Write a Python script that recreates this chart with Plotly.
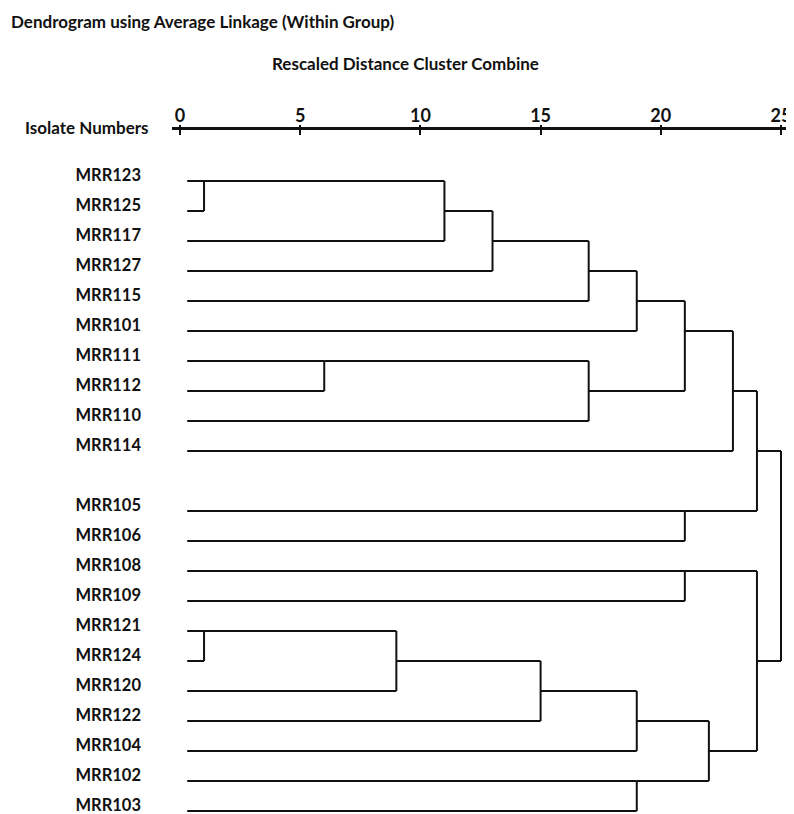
import plotly.graph_objects as go

# ---------------- data ----------------
leaves = ["MRR123", "MRR125", "MRR117", "MRR127", "MRR115", "MRR101",
          "MRR111", "MRR112", "MRR110", "MRR114",
          "MRR105", "MRR106", "MRR108", "MRR109", "MRR121", "MRR124",
          "MRR120", "MRR122", "MRR104", "MRR102", "MRR103"]

# merges: (child A, child B, rescaled distance); "C<n>" = cluster made by merge n (1-based)
merge_a = ["MRR123", "MRR121", "MRR111", "C2", "C1", "C5", "C4", "C6", "C3", "C8",
           "C7", "MRR102", "C10", "MRR105", "MRR108", "C11", "C13", "C17", "C15", "C18"]
merge_b = ["MRR125", "MRR124", "MRR112", "MRR120", "MRR117", "MRR127", "MRR122", "MRR115",
           "MRR110", "MRR101", "MRR104", "MRR103", "C9", "MRR106", "MRR109", "C12",
           "MRR114", "C14", "C16", "C19"]
merge_dist = [1, 1, 6, 9, 11, 13, 15, 17, 17, 19, 19, 19, 21, 21, 21, 22, 23, 24, 24, 25]

x_ticks = [0, 5, 10, 15, 20, 25]

# ---------------- layout constants ----------------
OFF = 8                              # page body margin
W, H = 794 - OFF, 814 - OFF
PL, PR, PT = 172 - OFF, 790 - OFF, 130 - OFF   # plot area pixels
X0_PX, PX_PER_UNIT = 180 - OFF, 24.04
ROW0_PX, ROW_PX = 181 - OFF, 30
GAP_AFTER = "MRR114"
LEAF_START = 0.3
FONT = "Lato"
INK = "#111111"

# row of each leaf (one empty row after GAP_AFTER)
row = {}
r = 0
for name in leaves:
    row[name] = r
    r += 1
    if name == GAP_AFTER:
        r += 1

# node info: start x and output row
node_x = {n: LEAF_START for n in leaves}
node_row = dict(row)
xs, ys = [], []
parent_dist = {}
for i, (a, b, d) in enumerate(zip(merge_a, merge_b, merge_dist), start=1):
    parent_dist[a] = d
    parent_dist[b] = d
    cname = f"C{i}"
    ra, rb = node_row[a], node_row[b]
    lo, hi = min(ra, rb), max(ra, rb)
    node_x[cname] = d
    node_row[cname] = (lo + hi) // 2
    xs += [d, d, None]
    ys += [lo, hi, None]

for n, d in parent_dist.items():
    xs += [node_x[n], d, None]
    ys += [node_row[n], node_row[n], None]

fig = go.Figure()
fig.add_trace(go.Scatter(x=xs, y=ys, mode="lines",
                         line=dict(color=INK, width=2),
                         hoverinfo="skip", showlegend=False, cliponaxis=False))

xmin = (PL - X0_PX) / PX_PER_UNIT
xmax = (PR - X0_PX) / PX_PER_UNIT
ytop = (PT - ROW0_PX) / ROW_PX
ybot = (H - ROW0_PX) / ROW_PX

common_x = dict(range=[xmin, xmax], side="top", tickvals=x_ticks,
                showgrid=False, zeroline=False)

fig.update_layout(
    width=W, height=H,
    margin=dict(l=PL, r=W - PR, t=PT, b=0, autoexpand=False),
    plot_bgcolor="white", paper_bgcolor="white",
    font=dict(family=FONT, color=INK),
    # main axis: thick line, ticks pointing down
    xaxis=dict(**common_x, ticks="inside", ticklen=5, tickwidth=2, tickcolor=INK,
               showline=True, linewidth=3, linecolor=INK, showticklabels=False),
    # ticks pointing up
    xaxis2=dict(**common_x, overlaying="x", anchor="free", position=1,
                ticks="outside", ticklen=5, tickwidth=2, tickcolor=INK,
                showticklabels=False, showline=False),
    # tick labels
    xaxis3=dict(**common_x, overlaying="x", anchor="free", position=1,
                ticks="", showline=False, ticklabeloverflow="allow",
                ticklabelstandoff=4,
                tickfont=dict(family=FONT, size=18, weight="bold", color=INK)),
    yaxis=dict(range=[ybot, ytop], tickvals=[row[n] for n in leaves], ticktext=leaves,
               ticks="", showline=False, showgrid=False, zeroline=False,
               ticklabelstandoff=30, ticklabelshift=6, ticklabeloverflow="allow",
               tickfont=dict(family=FONT, size=16.5, weight="bold", color=INK)),
)
fig.add_trace(go.Scatter(x=[None], y=[None], xaxis="x2", showlegend=False, hoverinfo="skip"))
fig.add_trace(go.Scatter(x=[None], y=[None], xaxis="x3", showlegend=False, hoverinfo="skip"))


def px_to_paper(px, py):
    return (px - OFF - PL) / (PR - PL), (H - (py - OFF)) / (H - PT)


def label(text, px, py, anchor="left", size=17):
    x, y = px_to_paper(px, py)
    fig.add_annotation(text=text, x=x, y=y, xref="paper", yref="paper",
                       xanchor=anchor, yanchor="middle", showarrow=False,
                       font=dict(family=FONT, size=size, weight="bold", color=INK))


label("Dendrogram using Average Linkage (Within Group)", 9, 22)
label("Rescaled Distance Cluster Combine", 405, 64, anchor="center")
label("Isolate Numbers", 151, 128, anchor="right")

fig.write_html("out.html")
